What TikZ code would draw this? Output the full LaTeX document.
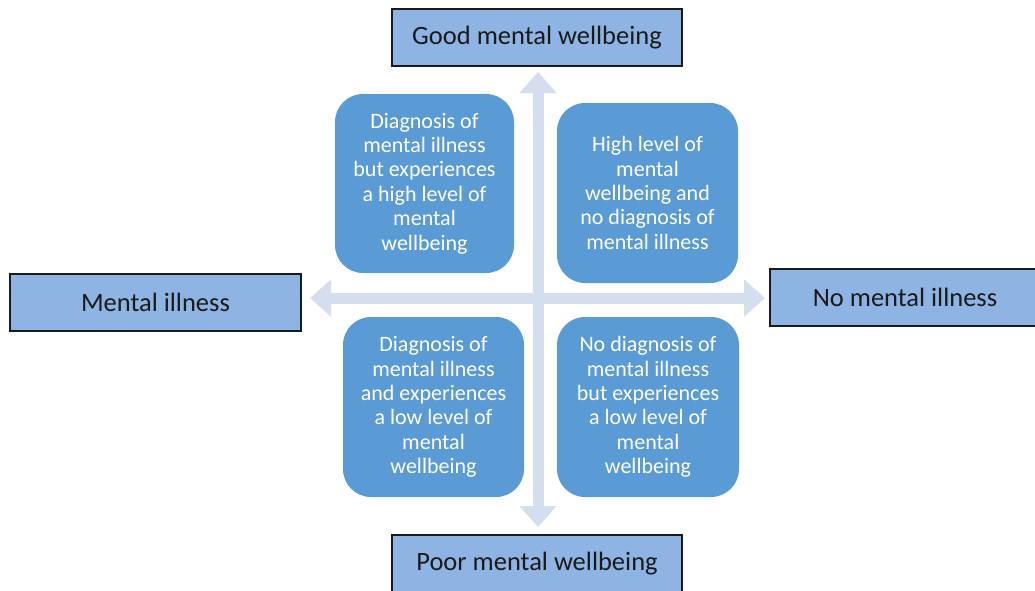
\documentclass[tikz,border=0pt]{standalone}
\usepackage{fontspec}
\setmainfont{Carlito}
\usetikzlibrary{arrows.meta}
\definecolor{quadfill}{RGB}{91,155,213}
\definecolor{labfill}{RGB}{142,180,227}
\definecolor{axiscol}{RGB}{212,222,239}
\definecolor{labtext}{RGB}{26,26,26}
\begin{document}
\begin{tikzpicture}[x=1pt,y=-1pt,
  labelbox/.style={draw=labtext,line width=1.3pt,fill=labfill,text=labtext,
    minimum height=57pt,inner sep=0pt,font=\fontsize{26.5}{30}\selectfont},
  quadbox/.style={fill=quadfill,rounded corners=28pt,text=white,align=center,
    inner sep=0pt,font=\fontsize{22}{24.4}\selectfont},
  axisarrow/.style={draw=axiscol,line width=11pt,
    {Triangle[width=36pt,length=21pt]}-{Triangle[width=36pt,length=21pt]}}]
\clip (0,0) rectangle (1035,590);
\fill[white] (0,0) rectangle (1035,590);
% axes
\coordinate (vt) at (538,72);
\coordinate (vb) at (538,527);
\coordinate (hl) at (310,298);
\coordinate (hr) at (765,298);
\draw[axisarrow] (vb) -- (vt);
\draw[axisarrow] (hl) -- (hr);
% label boxes
\node[labelbox,minimum width=290pt] (good) at (537,37.5) {Good mental wellbeing};
\node[labelbox,minimum width=291pt] (ill) at (155.5,302.5) {Mental illness};
\node[labelbox,minimum width=270pt] (noill) at (905,297.5) {No mental illness};
\node[labelbox,minimum width=290pt] (poor) at (537,563.5) {Poor mental wellbeing};
% quadrants
\node[quadbox,minimum width=179pt,minimum height=179pt] (tl) at (424.5,183.5)
  {Diagnosis of\\mental illness\\but experiences\\a high level of\\mental\\wellbeing};
\node[quadbox,minimum width=181pt,minimum height=180pt] (tr) at (647.5,193)
  {High level of\\mental\\wellbeing and\\no diagnosis of\\mental illness};
\node[quadbox,minimum width=181pt,minimum height=180pt] (bl) at (433.5,407)
  {Diagnosis of\\mental illness\\and experiences\\a low level of\\mental\\wellbeing};
\node[quadbox,minimum width=182pt,minimum height=180pt] (br) at (648,407)
  {No diagnosis of\\mental illness\\but experiences\\a low level of\\mental\\wellbeing};
\end{tikzpicture}
\end{document}
